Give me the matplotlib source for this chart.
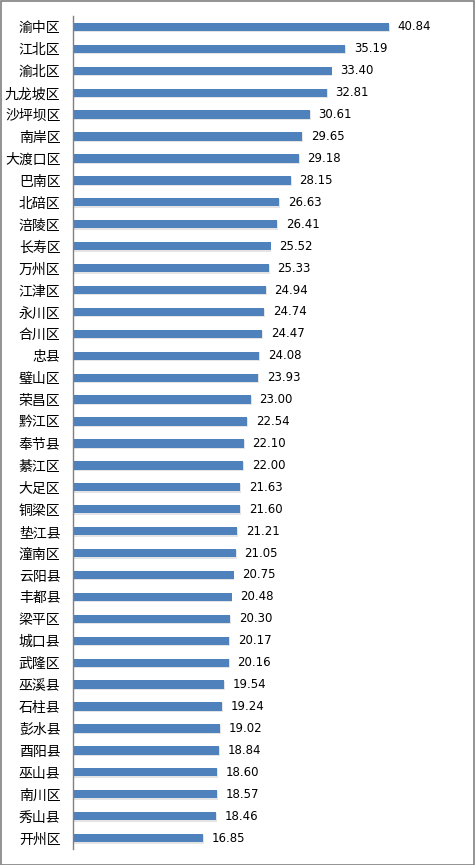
import matplotlib.pyplot as plt
import matplotlib.patches as mpatches

plt.rcParams['font.family'] = ['Noto Sans CJK SC', 'DejaVu Sans']

districts = ["渝中区", "江北区", "渝北区", "九龙坡区", "沙坪坝区", "南岸区", "大渡口区",
             "巴南区", "北碚区", "涪陵区", "长寿区", "万州区", "江津区", "永川区",
             "合川区", "忠县", "璧山区", "荣昌区", "黔江区", "奉节县", "綦江区",
             "大足区", "铜梁区", "垫江县", "潼南区", "云阳县", "丰都县", "梁平区",
             "城口县", "武隆区", "巫溪县", "石柱县", "彭水县", "酉阳县", "巫山县",
             "南川区", "秀山县", "开州区"]
values = [40.84, 35.19, 33.40, 32.81, 30.61, 29.65, 29.18, 28.15, 26.63, 26.41,
          25.52, 25.33, 24.94, 24.74, 24.47, 24.08, 23.93, 23.00, 22.54, 22.10,
          22.00, 21.63, 21.60, 21.21, 21.05, 20.75, 20.48, 20.30, 20.17, 20.16,
          19.54, 19.24, 19.02, 18.84, 18.60, 18.57, 18.46, 16.85]

W, H = 475, 865
fig = plt.figure(figsize=(W / 100, H / 100), dpi=100)
ax = fig.add_axes([73 / W, 1 - 849 / H, (460 - 73) / W, (849 - 16) / H])

ypos = list(range(len(values)))
# faint shadow under bars
ax.barh([y + 0.05 for y in ypos], [v + 0.1 for v in values], height=0.40,
        color='#e4e4e4', zorder=1)
ax.barh(ypos, values, height=0.38, color='#4F81BD', zorder=2)

for y, v in zip(ypos, values):
    ax.text(v + 1.1, y, f"{v:.2f}", va='center', ha='left', fontsize=8.5,
            family=['DejaVu Sans'], color='black')

ax.set_yticks(ypos)
ax.set_yticklabels(districts, fontsize=10)
ax.set_ylim(len(values) - 0.5, -0.5)
ax.set_xlim(0, 50)
ax.tick_params(axis='y', length=0, pad=9)
ax.set_xticks([])
for s in ['top', 'right', 'bottom']:
    ax.spines[s].set_visible(False)
ax.spines['left'].set_color('#808080')
ax.spines['left'].set_linewidth(1)

fig.patches.append(mpatches.Rectangle((0.5 / W, 0.5 / H), 1 - 1.5 / W, 1 - 1.5 / H,
                                      transform=fig.transFigure, fill=False,
                                      edgecolor='#808080', linewidth=1.2))

fig.savefig('out.png', dpi=100)
